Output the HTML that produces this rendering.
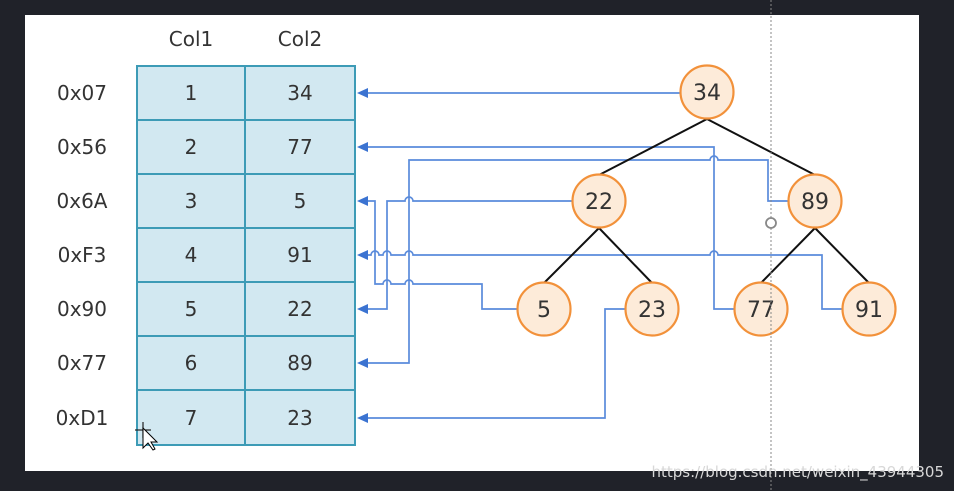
<!DOCTYPE html>
<html><head><meta charset="utf-8"><style>
html,body{margin:0;padding:0;background:#1f2129;}
svg{display:block}
text{font-family:"DejaVu Sans","Liberation Sans",sans-serif;}
</style></head><body>
<svg width="954" height="491" viewBox="0 0 954 491" xmlns="http://www.w3.org/2000/svg">
<rect x="0" y="0" width="954" height="491" fill="#202229"/>
<rect x="25" y="15" width="894" height="456" fill="#ffffff"/>
<g font-size="20" fill="#333" text-anchor="middle">
<text x="191" y="46">Col1</text>
<text x="300" y="46">Col2</text>
</g>
<rect x="137" y="66" width="218" height="379" fill="#d2e8f1" stroke="#3d9bb6" stroke-width="2"/>
<g stroke="#3d9bb6" stroke-width="2">
<line x1="245" y1="66" x2="245" y2="445"/>
<line x1="137" y1="120" x2="355" y2="120"/>
<line x1="137" y1="174" x2="355" y2="174"/>
<line x1="137" y1="228" x2="355" y2="228"/>
<line x1="137" y1="282" x2="355" y2="282"/>
<line x1="137" y1="336" x2="355" y2="336"/>
<line x1="137" y1="390" x2="355" y2="390"/>
</g>
<g font-size="20" fill="#333" text-anchor="middle">
<text x="82" y="100">0x07</text><text x="191" y="100">1</text><text x="300" y="100">34</text>
<text x="82" y="154">0x56</text><text x="191" y="154">2</text><text x="300" y="154">77</text>
<text x="82" y="208">0x6A</text><text x="191" y="208">3</text><text x="300" y="208">5</text>
<text x="82" y="262">0xF3</text><text x="191" y="262">4</text><text x="300" y="262">91</text>
<text x="82" y="316">0x90</text><text x="191" y="316">5</text><text x="300" y="316">22</text>
<text x="82" y="370">0x77</text><text x="191" y="370">6</text><text x="300" y="370">89</text>
<text x="82" y="425">0xD1</text><text x="191" y="425">7</text><text x="300" y="425">23</text>
</g>
<g fill="none" stroke="#5a8bdb" stroke-width="1.7">
<path d="M680,93 H364"/>
<path d="M734,309 H714 V147 H364"/>
<path d="M517,309 H482 V284 H413 a4,4 0 0 0 -8,0 H391 a4,4 0 0 0 -8,0 H375 V201 H364"/>
<path d="M842,309 H822 V255 H718 a4,4 0 0 0 -8,0 H413 a4,4 0 0 0 -8,0 H391 a4,4 0 0 0 -8,0 H379 a4,4 0 0 0 -8,0 H364"/>
<path d="M572,201 H413 a4,4 0 0 0 -8,0 H387 V309 H364"/>
<path d="M788,201 H768 V160 H718 a4,4 0 0 0 -8,0 H409 V363 H364"/>
<path d="M625,309 H605 V418 H364"/>
</g>
<g fill="#3b73d1">
<path d="M357,93 l11,-5 v10 z"/>
<path d="M357,147 l11,-5 v10 z"/>
<path d="M357,201 l11,-5 v10 z"/>
<path d="M357,255 l11,-5 v10 z"/>
<path d="M357,309 l11,-5 v10 z"/>
<path d="M357,363 l11,-5 v10 z"/>
<path d="M357,418 l11,-5 v10 z"/>
</g>
<g stroke="#111" stroke-width="2">
<line x1="707" y1="119" x2="599" y2="175"/>
<line x1="707" y1="119" x2="815" y2="175"/>
<line x1="599" y1="228" x2="544" y2="283"/>
<line x1="599" y1="228" x2="652" y2="283"/>
<line x1="815" y1="228" x2="761" y2="283"/>
<line x1="815" y1="228" x2="869" y2="283"/>
</g>
<g fill="#fdebd9" stroke="#f2913a" stroke-width="2.2">
<circle cx="707" cy="92" r="26.5"/>
<circle cx="599" cy="201" r="26.5"/>
<circle cx="815" cy="201" r="26.5"/>
<circle cx="544" cy="309" r="26.5"/>
<circle cx="652" cy="309" r="26.5"/>
<circle cx="761" cy="309" r="26.5"/>
<circle cx="869" cy="309" r="26.5"/>
</g>
<g font-size="22" fill="#333" text-anchor="middle">
<text x="707" y="100">34</text>
<text x="599" y="209">22</text>
<text x="815" y="209">89</text>
<text x="544" y="317">5</text>
<text x="652" y="317">23</text>
<text x="761" y="317">77</text>
<text x="869" y="317">91</text>
</g>
<line x1="771" y1="0" x2="771" y2="491" stroke="#888" stroke-width="1" stroke-dasharray="2,2"/>
<circle cx="771" cy="223" r="5" fill="#fff" stroke="#888" stroke-width="1.8"/>
<g stroke="#222" stroke-width="1.2" fill="none">
<line x1="135" y1="430" x2="151" y2="430"/>
<line x1="143" y1="422" x2="143" y2="438"/>
</g>
<path d="M143,428 L143,448 L148,443 L153,450 L155,449 L151,442 L157,442 Z" fill="#fff" stroke="#000" stroke-width="1"/>
<text x="944" y="477" font-size="15" fill="#d8d8d8" text-anchor="end" font-family="Liberation Sans,sans-serif">https://blog.csdn.net/weixin_43944305</text>
</svg>
</body></html>
